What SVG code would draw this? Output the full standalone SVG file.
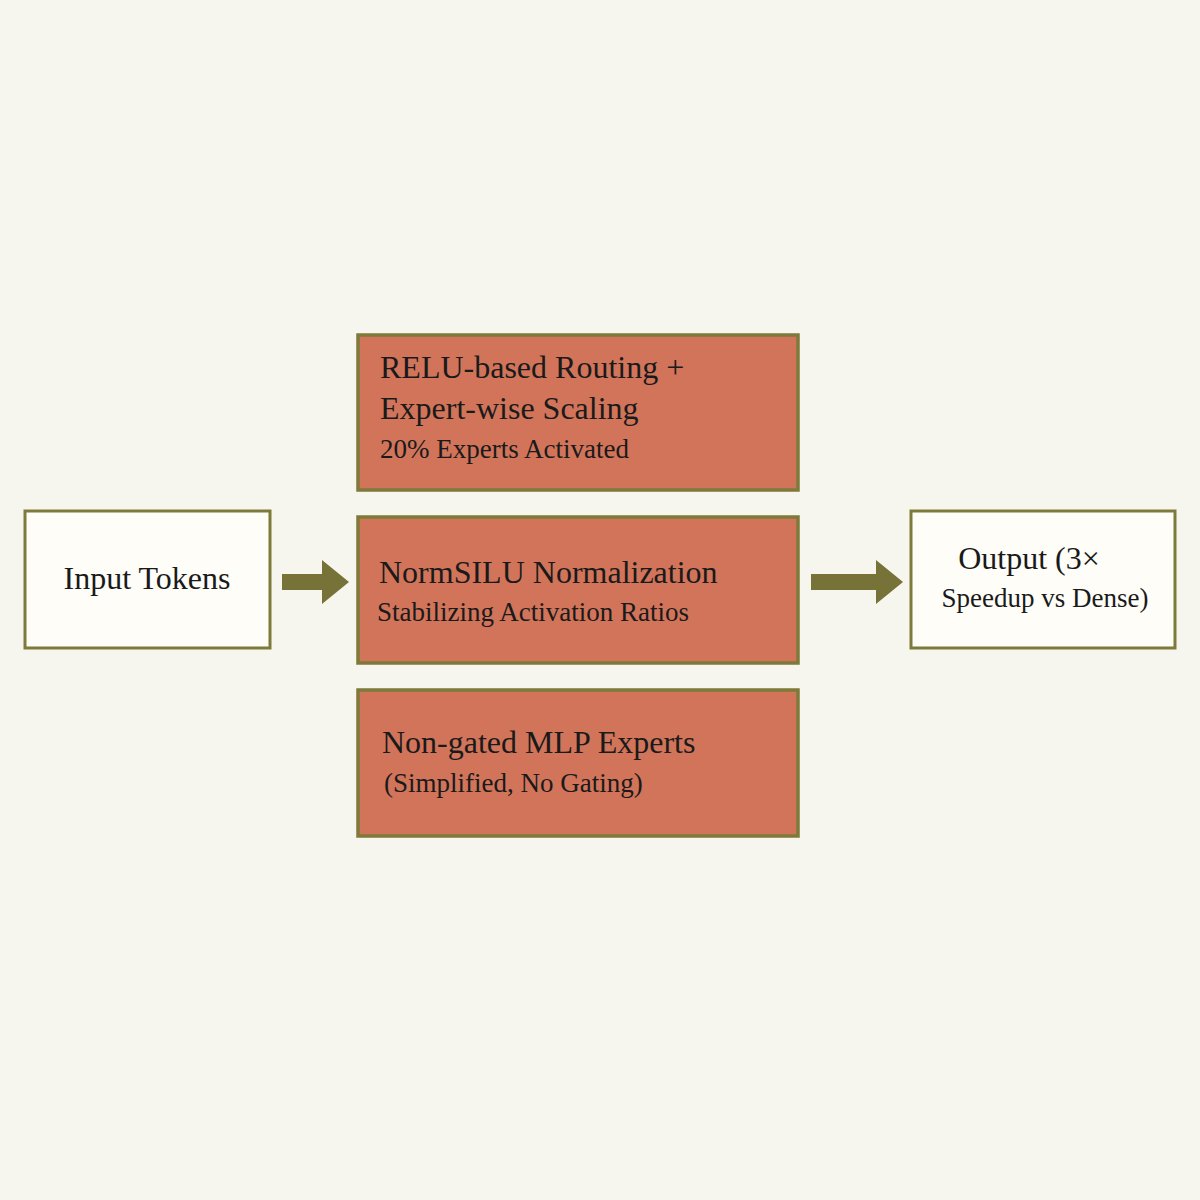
<svg xmlns="http://www.w3.org/2000/svg" width="1200" height="1200" viewBox="0 0 1200 1200">
<style>
.w{fill:#fefdf8;stroke:#7d7a3a;stroke-width:3}
.o{fill:#d1745a;stroke:#7d7a3a;stroke-width:3.5}
text{font-family:"Liberation Serif",serif;fill:#1a1a1a}
.l{font-size:32px}.s{font-size:27px}
.a{fill:#777237}
</style>
<rect width="1200" height="1200" fill="#f7f6ee"/>
<g id="input"><rect class="w" x="25" y="511" width="245" height="137"/><text class="l" x="147" y="589" text-anchor="middle">Input Tokens</text></g>
<g id="routing"><rect class="o" x="358" y="335" width="440" height="155"/><text class="l" x="380" y="378">RELU-based Routing +</text><text class="l" x="380" y="419">Expert-wise Scaling</text><text class="s" x="380" y="458">20% Experts Activated</text></g>
<g id="norm"><rect class="o" x="358" y="517" width="440" height="146"/><text class="l" x="379" y="583">NormSILU Normalization</text><text class="s" x="377" y="621">Stabilizing Activation Ratios</text></g>
<g id="mlp"><rect class="o" x="358" y="690" width="440" height="146"/><text class="l" x="382" y="753">Non-gated MLP Experts</text><text class="s" x="384" y="792">(Simplified, No Gating)</text></g>
<g id="output"><rect class="w" x="911" y="511" width="264" height="137"/><text class="l" x="1029" y="569" text-anchor="middle">Output (3×</text><text class="s" x="1045" y="607" text-anchor="middle">Speedup vs Dense)</text></g>
<g id="connectors">
<polygon class="a" points="282,574 322,574 322,560 349,582 322,604 322,590 282,590"/>
<polygon class="a" points="811,574 876,574 876,560 903,582 876,604 876,590 811,590"/>
</g>
</svg>
